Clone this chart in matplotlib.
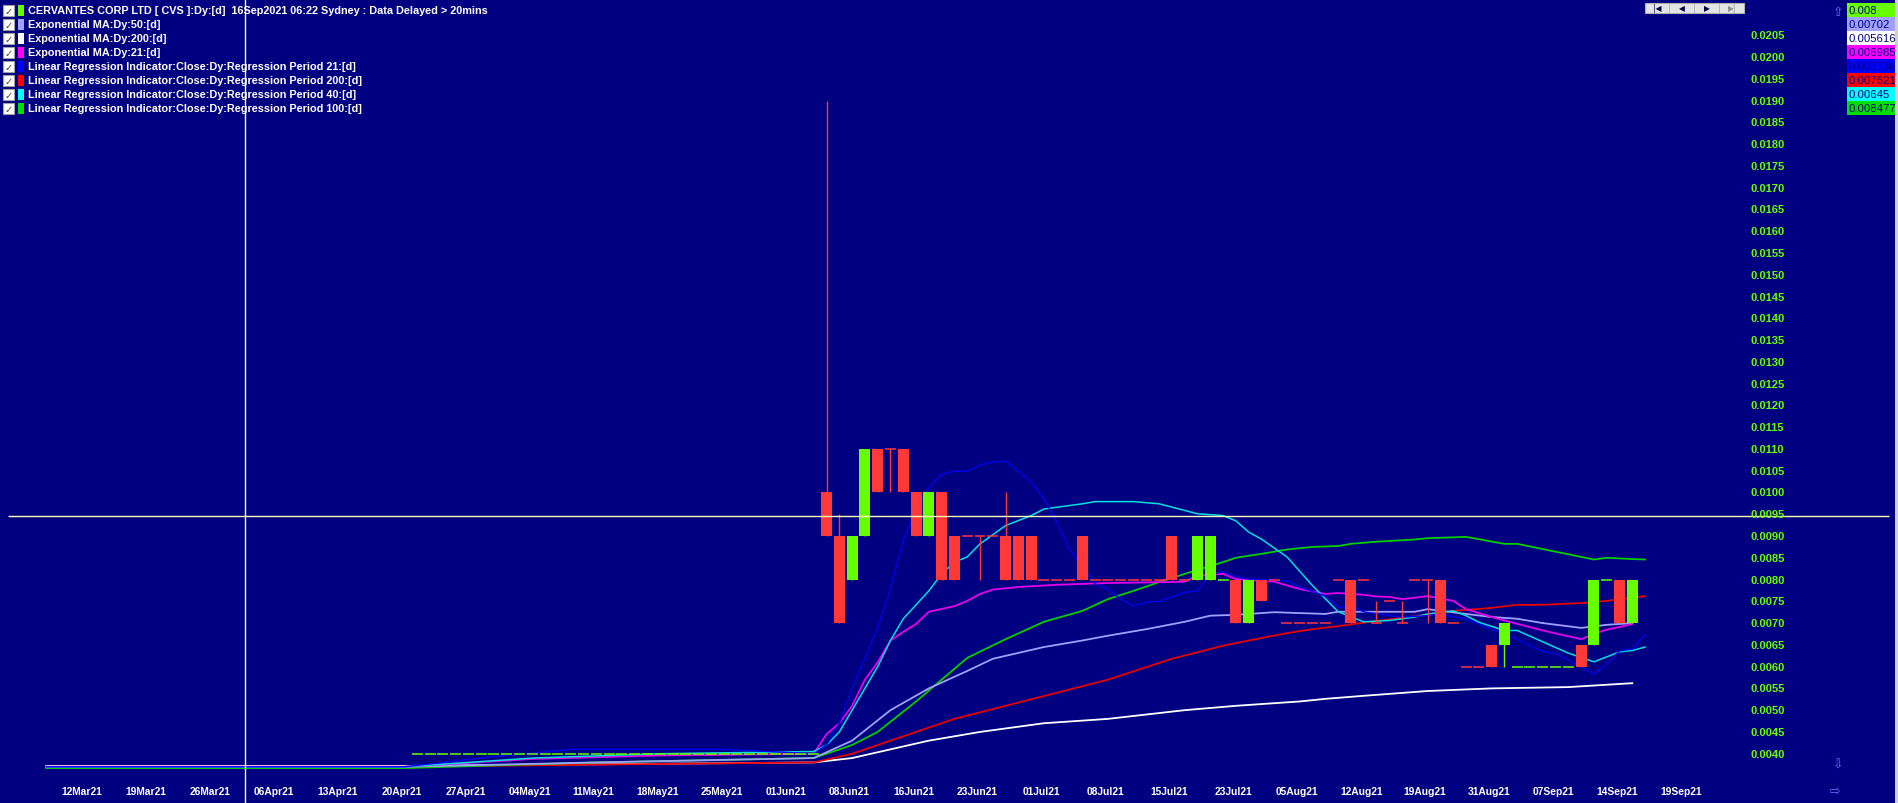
import matplotlib
matplotlib.use("Agg")
import matplotlib.pyplot as plt
from matplotlib.patches import Rectangle

W, H, DPI = 1899, 804, 100

# ---------------- data ----------------
x_labels = ["12Mar21", "19Mar21", "26Mar21", "06Apr21", "13Apr21", "20Apr21", "27Apr21",
            "04May21", "11May21", "18May21", "25May21", "01Jun21", "08Jun21", "16Jun21",
            "23Jun21", "01Jul21", "08Jul21", "15Jul21", "23Jul21", "05Aug21", "12Aug21",
            "19Aug21", "31Aug21", "07Sep21", "14Sep21", "19Sep21"]
y_ticks = [0.0040, 0.0045, 0.0050, 0.0055, 0.0060, 0.0065, 0.0070, 0.0075, 0.0080, 0.0085,
           0.0090, 0.0095, 0.0100, 0.0105, 0.0110, 0.0115, 0.0120, 0.0125, 0.0130, 0.0135,
           0.0140, 0.0145, 0.0150, 0.0155, 0.0160, 0.0165, 0.0170, 0.0175, 0.0180, 0.0185,
           0.0190, 0.0195, 0.0200, 0.0205]

# candles (bar number, OHLC)
c_idx = [58, 59, 60, 61, 62, 63, 64, 65, 66, 67, 68, 70, 72, 73, 74, 78, 85, 87, 88, 90,
         91, 92, 99, 101, 103, 105, 106, 110, 111, 117, 118, 120, 121]
c_open = [.010, .009, .008, .009, .011, .011, .011, .010, .009, .010, .009, .009, .009, .009,
          .009, .009, .009, .008, .008, .008, .007, .008, .008, .007, .007, .008, .008, .0065,
          .0065, .0065, .0065, .008, .007]
c_high = [.019, .0095, .009, .011, .011, .011, .011, .010, .010, .010, .009, .009, .010, .009,
          .009, .009, .009, .009, .009, .008, .008, .008, .008, .0075, .0075, .008, .008, .0065,
          .007, .0065, .008, .008, .008]
c_low = [.009, .007, .008, .009, .010, .010, .010, .009, .009, .008, .008, .008, .008, .008,
         .008, .008, .008, .008, .008, .007, .007, .0075, .007, .007, .007, .007, .007, .006,
         .006, .006, .0065, .007, .007]
c_close = [.009, .007, .009, .011, .010, .011, .010, .009, .010, .008, .008, .009, .008, .008,
           .008, .008, .008, .009, .009, .007, .008, .0075, .007, .007, .007, .008, .007, .006,
           .007, .006, .008, .007, .008]

# flat bars (open = high = low = close)
early_flat_idx = list(range(26, 58))
early_flat_price = 0.0040
flat_idx = [69, 71, 75, 76, 77, 79, 80, 81, 82, 83, 84, 86, 89, 93, 94, 95, 96, 97, 98, 100,
            102, 104, 107, 108, 109, 112, 113, 114, 115, 116, 119]
flat_price = [.009, .009, .008, .008, .008, .008, .008, .008, .008, .008, .008, .008, .008, .008,
              .007, .007, .007, .007, .008, .008, .0075, .008, .007, .006, .006, .006, .006,
              .006, .006, .006, .008]
flat_up = [0, 0, 0, 0, 0, 0, 0, 0, 0, 0, 0, 0, 1, 0, 0, 0, 0, 0, 0, 0, 0, 0, 0, 0, 0, 1, 1, 1,
           1, 1, 1]

# indicator lines (bar number, value)
ema50_x = [-3, 25, 40, 57, 60, 63, 66, 69, 71, 75, 78, 80, 83, 86, 88, 90, 93, 97, 98, 101,
           104, 105, 108, 110, 112, 114, 117, 119, 121]
ema50_y = [.00370, .00370, .00380, .00390, .00430, .00500, .00550, .00590, .00618, .00645,
           .00660, .00671, .00686, .00703, .00717, .00719, .00725, .00721, .00726, .00726,
           .00726, .00732, .00721, .00714, .00710, .00700, .00689, .00696, .00700]
ema200_x = [-3, 25, 57, 60, 63, 66, 70, 75, 80, 86, 90, 95, 97, 100, 105, 110, 116, 121]
ema200_y = [.00372, .00372, .00380, .00390, .00410, .00430, .00450, .00470, .00480, .00500,
            .00510, .00520, .00526, .00533, .00544, .00550, .00553, .00562]
ema21_x = [-3, 25, 35, 45, 57, 58, 59, 60, 61, 62, 63, 64, 65, 66, 68, 69, 70, 71, 73, 76, 80,
           86, 87, 89, 90, 93, 95, 97, 98, 100, 101, 102, 103, 105, 107, 108, 110, 111, 114,
           117, 118, 119, 120, 121]
ema21_y = [.00370, .00370, .00388, .00396, .00400, .00445, .00470, .00510, .00570, .00610,
           .00660, .00680, .00698, .00726, .00739, .00751, .00767, .00777, .00783, .00788,
           .00792, .00795, .00809, .00813, .00801, .00795, .00778, .00767, .00769, .00765,
           .00761, .00760, .00755, .00762, .00751, .00732, .00714, .00706, .00683, .00663,
           .00675, .00685, .00691, .00698]
lr21_x = [-3, 25, 31, 38, 50, 57, 58, 59, 60, 61, 62, 63, 64, 65, 66, 67, 68, 69, 70, 71, 72,
          74, 75, 76, 77, 78, 79, 80, 81, 82, 83, 84, 86, 87, 88, 89, 90, 91, 94, 95, 97, 98,
          99, 100, 101, 103, 105, 106, 108, 109, 110, 112, 114, 115, 117, 118, 119, 120, 121,
          122]
lr21_y = [.00370, .00370, .00390, .00410, .00410, .00400, .00420, .00470, .00550, .00620,
          .00690, .00780, .00890, .00960, .01010, .01042, .01049, .01049, .01063, .01070,
          .01072, .01024, .00985, .00932, .00870, .00831, .00790, .00778, .00755, .00739,
          .00748, .00750, .00771, .00774, .00813, .00818, .00806, .00801, .00797, .00783,
          .00762, .00737, .00739, .00726, .00721, .00714, .00717, .00721, .00709, .00698,
          .00686, .00663, .00634, .00630, .00599, .00583, .00606, .00636, .00641, .00674]
lr200_x = [-3, 25, 40, 57, 60, 64, 68, 72, 76, 80, 85, 89, 91, 94, 96, 98, 101, 103, 107, 110,
           112, 114, 117, 119, 122]
lr200_y = [.00370, .00370, .00375, .00380, .00400, .00440, .00480, .00510, .00540, .00570,
           .00618, .00648, .00660, .00677, .00686, .00693, .00705, .00712, .00728, .00735,
           .00742, .00742, .00746, .00751, .00762]
lr40_x = [-3, 25, 35, 45, 57, 58, 59, 60, 61, 62, 63, 64, 66, 67, 68, 69, 70, 72, 74, 75, 78,
          79, 82, 84, 87, 89, 90, 91, 92, 94, 96, 98, 100, 102, 104, 105, 107, 108, 109, 111,
          112, 114, 116, 118, 120, 121, 122]
lr40_y = [.00370, .00370, .00390, .00400, .00405, .00420, .00450, .00500, .00550, .00600,
          .00660, .00710, .00774, .00813, .00840, .00852, .00882, .00924, .00947, .00962,
          .00974, .00979, .00979, .00974, .00951, .00947, .00935, .00909, .00893, .00852,
          .00786, .00726, .00703, .00706, .00714, .00721, .00728, .00717, .00702, .00683,
          .00683, .00657, .00631, .00611, .00634, .00637, .00645]
lr100_x = [-3, 25, 40, 57, 58, 60, 62, 65, 69, 72, 75, 78, 80, 82, 84, 86, 89, 90, 92, 94, 96,
           98, 99, 101, 104, 105, 108, 111, 112, 115, 117, 118, 119, 121, 122]
lr100_y = [.00367, .00367, .00380, .00390, .00400, .00420, .00450, .00520, .00620, .00663,
           .00703, .00728, .00755, .00774, .00794, .00813, .00840, .00850, .00859, .00869,
           .00875, .00877, .00882, .00887, .00892, .00895, .00898, .00882, .00882, .00864,
           .00852, .00846, .00850, .00847, .00846]

legend_labels = ["CERVANTES CORP LTD [ CVS ]:Dy:[d]  16Sep2021 06:22 Sydney : Data Delayed > 20mins",
                 "Exponential MA:Dy:50:[d]",
                 "Exponential MA:Dy:200:[d]",
                 "Exponential MA:Dy:21:[d]",
                 "Linear Regression Indicator:Close:Dy:Regression Period 21:[d]",
                 "Linear Regression Indicator:Close:Dy:Regression Period 200:[d]",
                 "Linear Regression Indicator:Close:Dy:Regression Period 40:[d]",
                 "Linear Regression Indicator:Close:Dy:Regression Period 100:[d]"]
legend_colors = ["#66FF00", "#A0A0FF", "#FFFFFF", "#FF00FF", "#0000FF", "#FF0000", "#00FFFF",
                 "#00E000"]
last_values = ["0.008", "0.00702", "0.005616", "0.006985", "0.006736", "0.007621", "0.00645",
               "0.008477"]

# ---------------- styling ----------------
BG = "#000080"
UP = "#66FF00"
DOWN = "#FF3838"
CROSS = "#FFFFB8"
FONT = "Liberation Sans"

# pixel mapping (layout only)
X0_PX, PX_PER_BAR = 84.7, 12.79
Y_REF_PX, Y_REF_VAL, PX_PER_UNIT = 36.3, 0.0205, 21.77 / 0.0005


def xpx(px):
    return (px - X0_PX) / PX_PER_BAR


def ypx(py):
    return Y_REF_VAL - (py - Y_REF_PX) / PX_PER_UNIT


fig = plt.figure(figsize=(W / DPI, H / DPI), dpi=DPI, facecolor=BG)
ax = fig.add_axes([0, 0, 1, 1])
ax.set_facecolor(BG)
ax.set_xlim(xpx(0), xpx(W))
ax.set_ylim(ypx(H), ypx(0))
ax.axis("off")

# indicator lines
ax.plot(ema200_x, ema200_y, color="#FFFFFF", lw=1.3, zorder=2)
ax.plot(lr200_x, lr200_y, color="#E80000", lw=1.3, zorder=2)
ax.plot(lr100_x, lr100_y, color="#00D000", lw=1.3, zorder=2)
ax.plot(ema50_x, ema50_y, color="#A0A0FF", lw=1.3, zorder=2)
ax.plot(ema21_x, ema21_y, color="#E800E8", lw=1.3, zorder=2)
ax.plot(lr40_x, lr40_y, color="#00E0E0", lw=1.1, zorder=2)
ax.plot(lr21_x, lr21_y, color="#0000F0", lw=1.0, zorder=2)

# candles
BW = 0.86
for i, o, hi, lo, c in zip(c_idx, c_open, c_high, c_low, c_close):
    col = UP if c > o else DOWN
    ax.vlines(i, lo, hi, color=col, lw=1.0, zorder=3)
    if c != o:
        ax.bar(i, abs(c - o), bottom=min(o, c), width=BW, color=col, lw=0, zorder=3)
    else:
        ax.hlines(o, i - BW / 2, i + BW / 2, color=col, lw=1.1, zorder=3)
for i in early_flat_idx:
    ax.hlines(early_flat_price, i - BW / 2, i + BW / 2, color=UP, lw=1.1, zorder=3)
for i, p, u in zip(flat_idx, flat_price, flat_up):
    ax.hlines(p, i - BW / 2, i + BW / 2, color=UP if u else DOWN, lw=1.1, zorder=3)

# crosshair
ax.hlines(ypx(517), xpx(8), xpx(1889), color=CROSS, lw=1.0, zorder=4)
ax.vlines(xpx(245), ypx(H), ypx(0), color=CROSS, lw=1.0, zorder=4)

# y tick labels
for v in y_ticks:
    ax.text(xpx(1750), v, f"{v:.4f}", color="#66FF00", fontsize=8.0, fontweight="bold",
            family=FONT, ha="left", va="center", zorder=5)
# x tick labels
for k, lab in enumerate(x_labels):
    ax.text(5 * k - 0.2, ypx(792), lab, color="white", fontsize=7.4, fontweight="bold",
            family=FONT, ha="center", va="center", zorder=5)


def fx(px):
    return px / W


def fy(py):
    return 1 - py / H


# legend
for r, (lab, col) in enumerate(zip(legend_labels, legend_colors)):
    cy = 11.5 + 13.95 * r
    fig.patches.append(Rectangle((fx(3), fy(cy + 5.5)), 11 / W, 11 / H, transform=fig.transFigure,
                                 facecolor="white", edgecolor="#A0A0A0", lw=0.8, zorder=6))
    fig.text(fx(8.5), fy(cy + 0.5), "\u2713", color="#404040", fontsize=7, family="DejaVu Sans",
             ha="center", va="center", zorder=7)
    fig.patches.append(Rectangle((fx(18), fy(cy + 5.5)), 6 / W, 11 / H, transform=fig.transFigure,
                                 facecolor=col, edgecolor="none", zorder=6))
    fig.text(fx(28), fy(cy), lab, color="white", fontsize=7.8, fontweight="bold", family=FONT,
             ha="left", va="center", zorder=7)

# last value boxes
for r, (val, col) in enumerate(zip(last_values, legend_colors)):
    top = 4 + 14 * r
    fig.patches.append(Rectangle((fx(1847), fy(top + 14)), 48 / W, 14 / H,
                                 transform=fig.transFigure, facecolor=col, edgecolor="none",
                                 zorder=6))
    fig.text(fx(1849), fy(top + 7), val, color="#000080", fontsize=8.2, family=FONT,
             ha="left", va="center", zorder=7)

# navigation bar
fig.patches.append(Rectangle((fx(1645), fy(13.5)), 99 / W, 10 / H, transform=fig.transFigure,
                             facecolor="#E4E4E4", edgecolor="#B0B0B0", lw=0.8, zorder=6))
for sx in [1669, 1694, 1719]:
    fig.patches.append(Rectangle((fx(sx), fy(13.5)), 1 / W, 10 / H, transform=fig.transFigure,
                                 facecolor="#B8B8B8", edgecolor="none", zorder=7))
for cx, g, c in [(1657, "|\u25C0", "#000050"), (1682, "\u25C0", "#000050"),
                 (1707, "\u25B6", "#000050"), (1732, "\u25B6|", "#909090")]:
    fig.text(fx(cx), fy(8.5), g, color=c, fontsize=5.5, family="DejaVu Sans", ha="center",
             va="center", zorder=8)

# scroll arrows
for px_, py_, g in [(1838, 12, "\u21E7"), (1838, 765, "\u21E9"), (1835, 791, "\u21E8")]:
    fig.text(fx(px_), fy(py_), g, color="#7070FF", fontsize=9, family="DejaVu Sans",
             ha="center", va="center", zorder=8)

# window border on right
fig.patches.append(Rectangle((fx(1895), 0), 4 / W, 1, transform=fig.transFigure,
                             facecolor="#D4D0C8", edgecolor="none", zorder=9))

fig.savefig("out.png", dpi=DPI, facecolor=BG)
